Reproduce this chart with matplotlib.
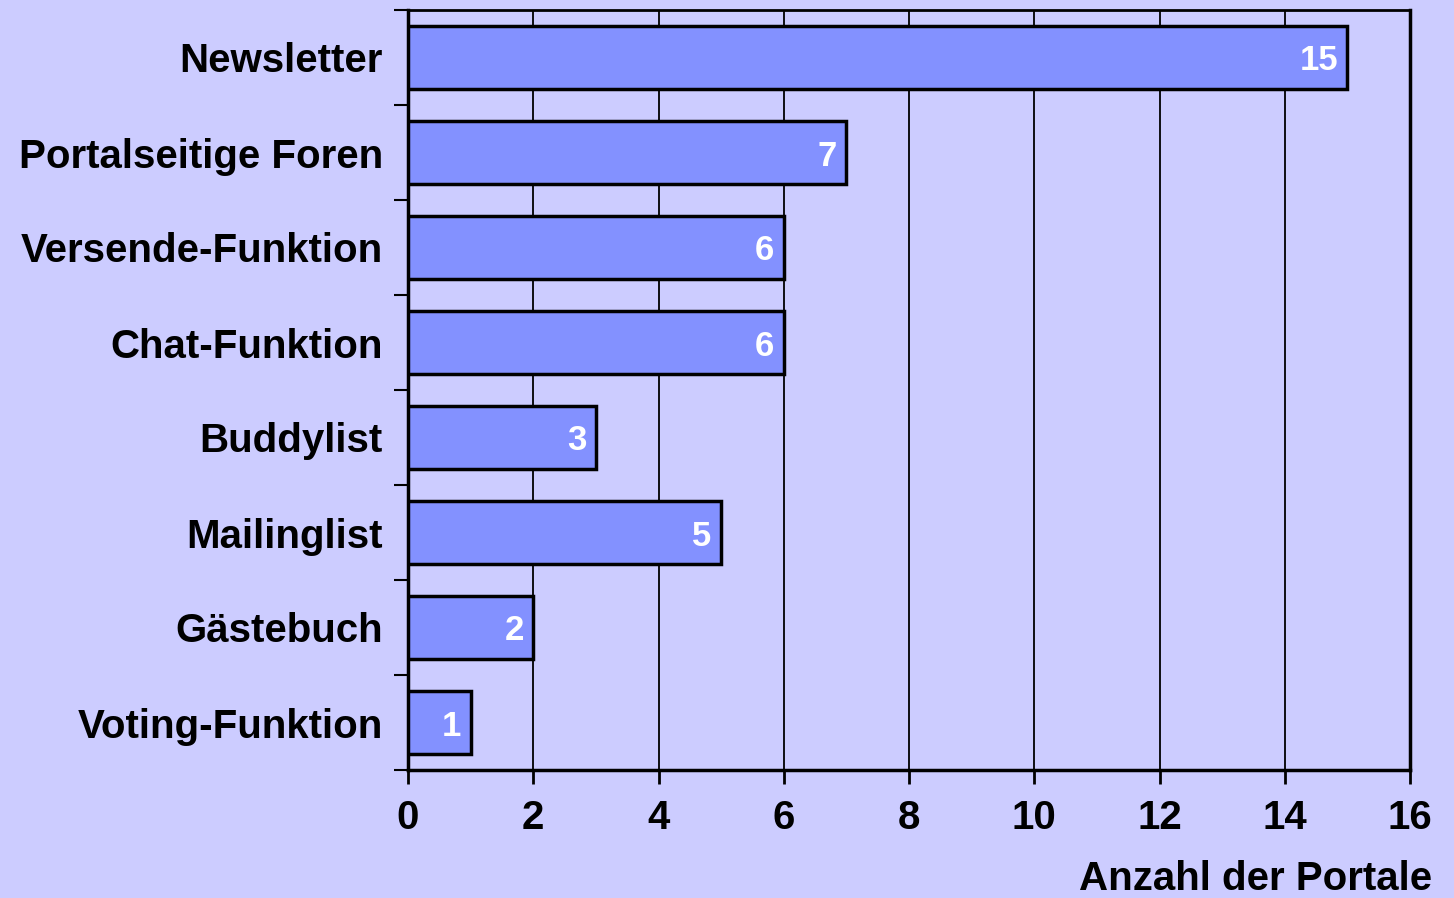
import numpy as np
import matplotlib.pyplot as plt

plt.rcParams['font.family'] = ['Liberation Sans', 'DejaVu Sans']
plt.rcParams['font.weight'] = 'bold'

categories = ["Newsletter", "Portalseitige Foren", "Versende-Funktion", "Chat-Funktion",
              "Buddylist", "Mailinglist", "Gästebuch", "Voting-Funktion"]
values = [15, 7, 6, 6, 3, 5, 2, 1]
xticks = [0, 2, 4, 6, 8, 10, 12, 14, 16]

bg = "#CCCCFF"
barcolor = "#8391FF"

fig = plt.figure(figsize=(14.54, 8.98), dpi=100, facecolor=bg)
ax = fig.add_axes([408/1454, 128/898, 1002/1454, 760/898])
ax.set_facecolor(bg)

n = len(categories)
y = np.arange(n)[::-1]
ax.barh(y, values, height=0.66, color=barcolor, edgecolor="black", linewidth=2.5, zorder=3)

for yi, v in zip(y, values):
    ax.text(v - 0.15, yi, str(v), color="white", fontsize=25, fontweight="bold",
            ha="right", va="center_baseline", zorder=4)

ax.set_xlim(0, 16)
ax.set_ylim(-0.5, n - 0.5)
ax.set_xticks(xticks)
ax.set_xticklabels([str(t) for t in xticks], fontsize=29, fontweight="bold")
ax.set_yticks(y)
ax.set_yticklabels(categories, fontsize=29, fontweight="bold")
ax.set_yticks(np.arange(n + 1) - 0.5, minor=True)
ax.tick_params(axis="y", which="major", length=0, pad=18)
ax.tick_params(axis="y", which="minor", length=10, width=1.5, direction="out")
ax.tick_params(axis="x", which="major", length=10, width=2, direction="out", pad=11)
ax.xaxis.grid(True, color="black", linewidth=1.3, zorder=0)
ax.set_axisbelow(True)

for s in ax.spines.values():
    s.set_linewidth(2.5)
ax.spines["top"].set_linewidth(2)

fig.text(1432/1454, 0.0, "Anzahl der Portale", ha="right", va="bottom",
         fontsize=29, fontweight="bold")

fig.savefig("out.png", dpi=100, facecolor=bg)
